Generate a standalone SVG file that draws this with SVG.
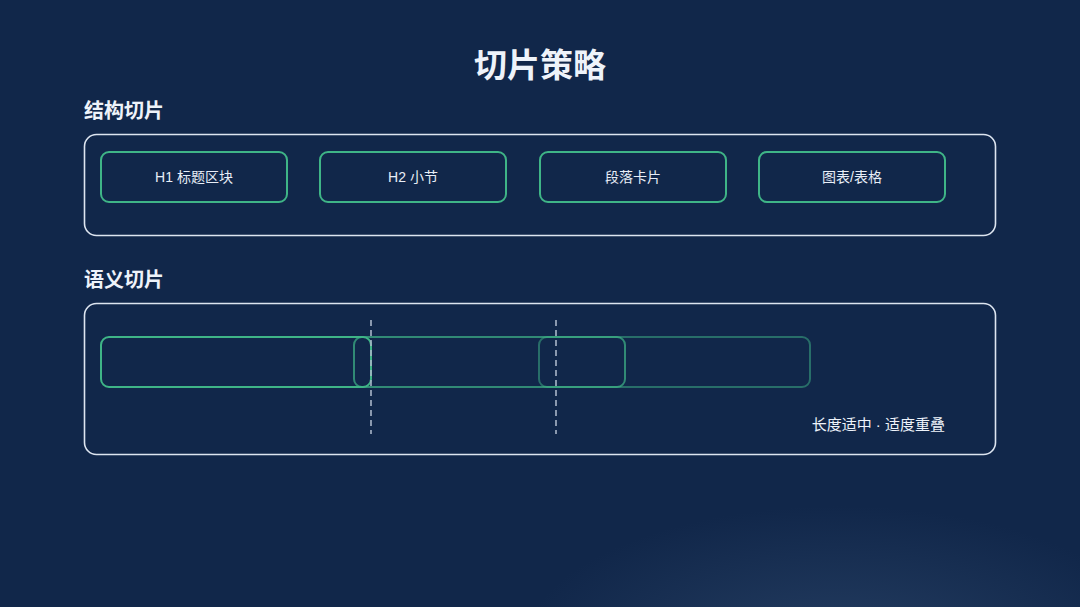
<svg xmlns="http://www.w3.org/2000/svg" width="1080" height="607" viewBox="0 0 1080 607">
<defs>
<radialGradient id="glow" cx="840" cy="650" r="320" gradientUnits="userSpaceOnUse" gradientTransform="translate(840 650) scale(1 0.45) translate(-840 -650)">
<stop offset="0" stop-color="#2a4468" stop-opacity="0.75"/>
<stop offset="1" stop-color="#2a4468" stop-opacity="0"/>
</radialGradient>
<style>
.t{font-family:"Noto Sans CJK SC","Liberation Sans",sans-serif;fill:#eef3fa}
.h{font-weight:700}
.panel{fill:none;stroke:#dde5f0;stroke-width:1.6}
.card{fill:none;stroke:#3fb587;stroke-width:2}
.lbl{font-family:"Liberation Sans","Noto Sans CJK SC",sans-serif;font-size:14px;fill:#e8eef7;text-anchor:middle}
.cut{stroke:#a9b6c8;stroke-width:1.6;stroke-dasharray:6 4}
</style>
</defs>
<rect width="1080" height="607" fill="#11274a"/>
<rect width="1080" height="607" fill="url(#glow)"/>
<text class="t h" x="540" y="77" font-size="33" text-anchor="middle">切片策略</text>
<text class="t h" x="84" y="118" font-size="20">结构切片</text>
<text class="t h" x="84" y="287" font-size="20">语义切片</text>
<g id="structure">
<rect class="panel" x="84.5" y="134.5" width="911" height="101" rx="12"/>
<g id="n1"><rect class="card" x="101" y="152" width="186" height="50" rx="8"/><text class="lbl" x="194" y="182">H1 标题区块</text></g>
<g id="n2"><rect class="card" x="320" y="152" width="186" height="50" rx="8"/><text class="lbl" x="413" y="182">H2 小节</text></g>
<g id="n3"><rect class="card" x="540" y="152" width="186" height="50" rx="8"/><text class="lbl" x="633" y="182">段落卡片</text></g>
<g id="n4"><rect class="card" x="759" y="152" width="186" height="50" rx="8"/><text class="lbl" x="852" y="182">图表/表格</text></g>
</g>
<g id="semantic">
<rect class="panel" x="84.5" y="303.5" width="911" height="151" rx="12"/>
<g id="c1"><rect class="card" x="101" y="337" width="270" height="50" rx="8"/></g>
<g id="c2"><rect class="card" x="354" y="337" width="271" height="50" rx="8" stroke-opacity="0.7"/></g>
<g id="c3"><rect class="card" x="539" y="337" width="271" height="50" rx="8" stroke-opacity="0.5"/></g>
<text x="945" y="430" font-size="15" text-anchor="end" font-family="Liberation Sans, Noto Sans CJK SC, sans-serif" fill="#eef3fa">长度适中 · 适度重叠</text>
</g>
<g id="connectors">
<line class="cut" x1="371" y1="320" x2="371" y2="434"/>
<line class="cut" x1="556" y1="320" x2="556" y2="434"/>
</g>
</svg>
